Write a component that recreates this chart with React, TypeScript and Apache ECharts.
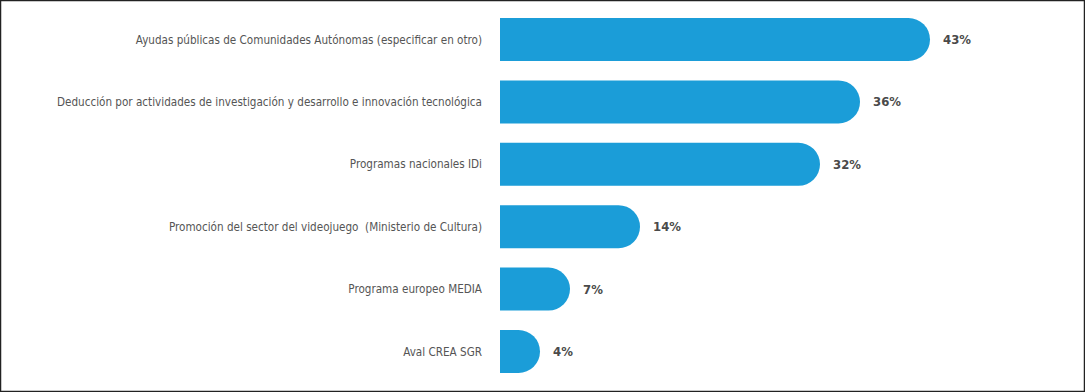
import React, { useEffect, useRef } from "react";
import * as echarts from "echarts";

const categories = [
  "Ayudas públicas de Comunidades Autónomas (especificar en otro)",
  "Deducción por actividades de investigación y desarrollo e innovación tecnológica",
  "Programas nacionales IDi",
  "Promoción del sector del videojuego  (Ministerio de Cultura)",
  "Programa europeo MEDIA",
  "Aval CREA SGR",
];
const values = [43, 36, 32, 14, 7, 4];

export default function App() {
  const ref = useRef<HTMLDivElement>(null);
  useEffect(() => {
    document.body.style.margin = "0";
    const chart = echarts.init(ref.current!, null, { renderer: "svg" });
    chart.setOption({
      animation: false,
      backgroundColor: "#ffffff",
      graphic: [
        {
          type: "rect",
          shape: { x: 0.5, y: 0.5, width: 1084, height: 391 },
          style: { fill: "none", stroke: "#222", lineWidth: 1.5 },
          silent: true,
        },
      ],
      grid: { left: 500, width: 430, top: 8.3, height: 374.4 },
      xAxis: {
        type: "value",
        min: 0,
        max: 43,
        show: false,
      },
      yAxis: {
        type: "category",
        inverse: true,
        data: categories,
        axisLine: { show: false },
        axisTick: { show: false },
        splitLine: { show: false },
        axisLabel: {
          margin: 18,
          color: "#555555",
          fontSize: 11.6,
          fontFamily: "'DejaVu Sans Condensed', sans-serif",
        },
      },
      series: [
        {
          type: "bar",
          data: values,
          barWidth: 43,
          itemStyle: { color: "#1b9dd8", borderRadius: [0, 21.5, 21.5, 0] },
          label: {
            show: true,
            position: "right",
            distance: 13,
            formatter: "{c}%",
            color: "#4a4a4a",
            fontWeight: "bold",
            fontSize: 13,
            fontFamily: "'DejaVu Sans Condensed', sans-serif",
          },
        },
      ],
    });
    return () => chart.dispose();
  }, []);
  return (
    <div
      ref={ref}
      style={{ position: "fixed", left: 0, top: 0, width: 1085, height: 392 }}
    />
  );
}
